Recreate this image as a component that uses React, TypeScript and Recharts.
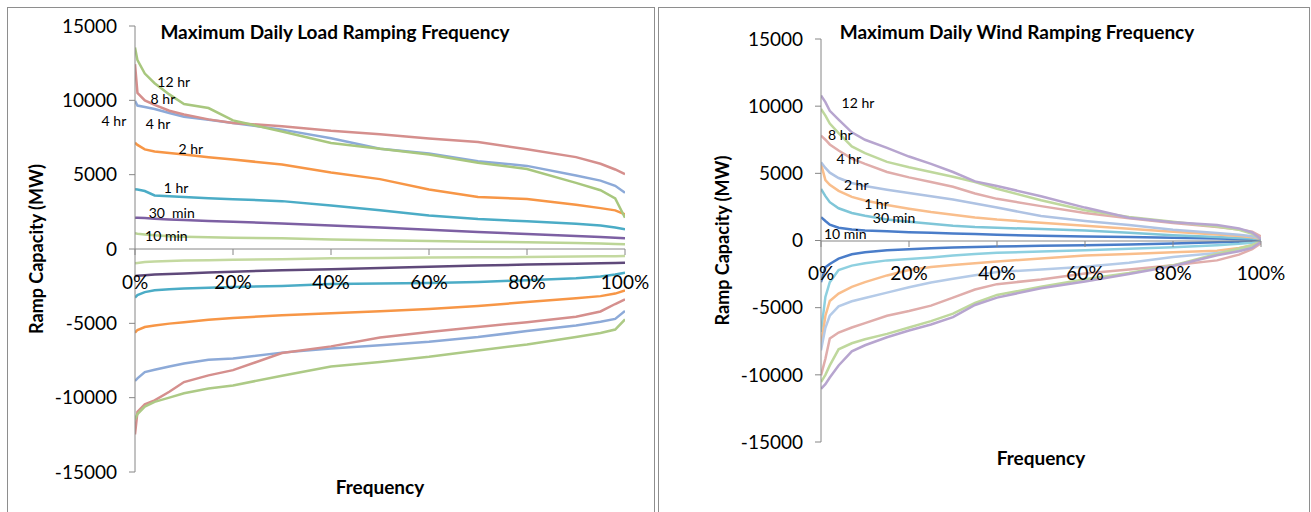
import React from 'react';
import { LineChart, Line, XAxis, YAxis, ReferenceDot } from 'recharts';

// frequency grid (share of days) the curves were read at
const loadFreq = [0, 0.005, 0.02, 0.04, 0.07, 0.1, 0.15, 0.2, 0.3, 0.4, 0.5, 0.6, 0.7, 0.8, 0.9, 0.95, 0.98, 1];
const windFreq = [0, 0.01, 0.02, 0.04, 0.07, 0.1, 0.15, 0.2, 0.25, 0.3, 0.35, 0.4, 0.5, 0.6, 0.7, 0.8, 0.9, 0.95, 0.98, 1];

// load ramps, MW (up = positive, down = negative)
const load12hUp = [13550, 12700, 11800, 11150, 10400, 9750, 9480, 8650, 7900, 7130, 6750, 6350, 5800, 5380, 4450, 3950, 3400, 2100];
const load8hUp = [12430, 10500, 10000, 9700, 9300, 9050, 8720, 8480, 8260, 7950, 7720, 7430, 7200, 6710, 6180, 5730, 5350, 5030];
const load4hUp = [9960, 9650, 9550, 9420, 9150, 8900, 8700, 8480, 8030, 7450, 6750, 6420, 5900, 5590, 4950, 4600, 4250, 3790];
const load2hUp = [7150, 7000, 6700, 6560, 6450, 6350, 6170, 6020, 5680, 5150, 4700, 4000, 3500, 3360, 2980, 2750, 2600, 2330];
const load1hUp = [4020, 4000, 3900, 3600, 3540, 3490, 3420, 3350, 3220, 2930, 2600, 2260, 2020, 1860, 1700, 1580, 1450, 1320];
const load30mUp = [2110, 2100, 2080, 2040, 1990, 1950, 1880, 1830, 1720, 1580, 1440, 1300, 1150, 1010, 880, 810, 760, 720];
const load10mUp = [1055, 1030, 980, 920, 860, 830, 790, 760, 715, 640, 590, 540, 495, 450, 400, 370, 340, 315];
const load10mDn = [-965, -940, -880, -840, -800, -780, -750, -730, -690, -620, -600, -580, -560, -540, -510, -495, -480, -470];
const load30mDn = [-1820, -1800, -1760, -1720, -1680, -1640, -1580, -1530, -1430, -1360, -1280, -1190, -1110, -1050, -990, -960, -940, -920];
const load1hDn = [-3270, -3100, -2900, -2780, -2700, -2660, -2600, -2550, -2490, -2360, -2320, -2290, -2220, -2100, -1960, -1850, -1720, -1600];
const load2hDn = [-5630, -5450, -5250, -5150, -5020, -4920, -4760, -4640, -4450, -4320, -4180, -4030, -3830, -3570, -3320, -3170, -3000, -2780];
const load4hDn = [-8880, -8700, -8280, -8120, -7900, -7700, -7450, -7360, -6970, -6700, -6480, -6240, -5920, -5520, -5150, -4900, -4700, -4170];
const load8hDn = [-12470, -10950, -10450, -10180, -9600, -8950, -8500, -8150, -7000, -6550, -5950, -5580, -5250, -4920, -4550, -4200, -3700, -3385];
const load12hDn = [-11460, -11100, -10600, -10280, -10000, -9700, -9380, -9180, -8520, -7900, -7600, -7250, -6820, -6430, -5920, -5650, -5420, -4730];

// wind ramps, MW
const wind12hUp = [10790, 10300, 9650, 9000, 8050, 7500, 6900, 6250, 5700, 5100, 4400, 4050, 3300, 2450, 1700, 1350, 1150, 900, 600, 100];
const wind8hUp = [9800, 9300, 8700, 8000, 7000, 6500, 5850, 5450, 5100, 4750, 4350, 3850, 3000, 2250, 1750, 1400, 1050, 800, 500, 80];
const wind4hUp = [7810, 7500, 7150, 6700, 6100, 5700, 5100, 4700, 4350, 4000, 3500, 3100, 2560, 2050, 1650, 1300, 1000, 820, 650, 300];
const wind2hUp = [5830, 5400, 5050, 4650, 4280, 4050, 3780, 3530, 3300, 3050, 2750, 2450, 1820, 1450, 1150, 800, 560, 420, 320, 150];
const wind1hUp = [5700, 4500, 4150, 3700, 3250, 2980, 2650, 2370, 2120, 1920, 1720, 1560, 1320, 1100, 880, 660, 450, 330, 250, 100];
const wind30mUp = [3840, 3300, 2850, 2400, 2050, 1850, 1570, 1400, 1250, 1100, 1000, 950, 850, 740, 580, 400, 260, 190, 140, 60];
const wind10mUp = [1740, 1450, 1180, 950, 820, 745, 680, 620, 570, 520, 480, 430, 360, 300, 260, 210, 150, 110, 80, 30];
const wind10mDn = [-3100, -2000, -1750, -1350, -1020, -880, -730, -650, -580, -530, -490, -450, -400, -360, -290, -220, -130, -90, -60, -30];
const wind30mDn = [-6820, -4200, -3100, -2200, -1870, -1700, -1480, -1380, -1260, -1120, -1000, -920, -820, -730, -620, -500, -350, -250, -160, -60];
const wind1hDn = [-7810, -5600, -4500, -3950, -3450, -3100, -2600, -2200, -1980, -1820, -1700, -1560, -1340, -1120, -1000, -880, -760, -560, -350, -100];
const wind2hDn = [-8180, -6500, -5600, -4900, -4520, -4280, -3880, -3480, -3120, -2850, -2580, -2350, -2150, -1950, -1650, -1220, -930, -700, -450, -150];
const wind4hDn = [-10040, -8800, -7300, -6850, -6480, -6150, -5600, -5250, -4850, -4250, -3650, -3250, -2900, -2450, -2150, -1850, -1480, -1050, -650, -200];
const wind8hDn = [-10540, -10000, -9300, -8100, -7650, -7350, -6950, -6480, -6000, -5450, -4650, -4050, -3450, -2880, -2420, -1850, -1000, -600, -350, -80];
const wind12hDn = [-11040, -10700, -10200, -9300, -8250, -7800, -7200, -6700, -6250, -5700, -4800, -4250, -3550, -3050, -2500, -1900, -1100, -800, -550, -100];

const mwTicks = [-15000, -10000, -5000, 0, 5000, 10000, 15000];
const freqTicks = [0, 0.2, 0.4, 0.6, 0.8, 1];

// text boxes sitting on the curves: label, frequency, MW
const loadNoteText = ['12 hr', '8 hr', '4 hr', '4 hr', '2 hr', '1 hr', '30\u00A0 min', '10 min'];
const loadNoteFreq = [0.079, 0.057, -0.043, 0.047, 0.114, 0.084, 0.075, 0.064];
const loadNoteMW = [11200, 10100, 8580, 8430, 6710, 4125, 2390, 855];
const windNoteText = ['12 hr', '8 hr', '4 hr', '2 hr', '1 hr', '30 min', '10 min'];
const windNoteFreq = [0.084, 0.044, 0.063, 0.08, 0.126, 0.166, 0.055];
const windNoteMW = [10230, 7830, 6100, 4130, 2750, 1640, 480];

type Series = { name: string; values: number[]; color: string };

const loadSeries: Series[] = [
  { name: '10 min up', values: load10mUp, color: '#BCD597' },
  { name: '30 min up', values: load30mUp, color: '#7D60A3' },
  { name: '1 hr up', values: load1hUp, color: '#4BACC6' },
  { name: '2 hr up', values: load2hUp, color: '#F79646' },
  { name: '4 hr up', values: load4hUp, color: '#8DAAD8' },
  { name: '8 hr up', values: load8hUp, color: '#D58F8D' },
  { name: '12 hr up', values: load12hUp, color: '#A8C77E' },
  { name: '10 min down', values: load10mDn, color: '#C4D9A0' },
  { name: '30 min down', values: load30mDn, color: '#5F497A' },
  { name: '1 hr down', values: load1hDn, color: '#4BACC6' },
  { name: '2 hr down', values: load2hDn, color: '#F79646' },
  { name: '4 hr down', values: load4hDn, color: '#8DAAD8' },
  { name: '8 hr down', values: load8hDn, color: '#D58F8D' },
  { name: '12 hr down', values: load12hDn, color: '#ADCA86' },
];

const windSeries: Series[] = [
  { name: '10 min up', values: wind10mUp, color: '#4A7DC9' },
  { name: '30 min up', values: wind30mUp, color: '#7FC6D8' },
  { name: '1 hr up', values: wind1hUp, color: '#F9BE8C' },
  { name: '2 hr up', values: wind2hUp, color: '#AFC3E3' },
  { name: '4 hr up', values: wind4hUp, color: '#E0ADAB' },
  { name: '8 hr up', values: wind8hUp, color: '#BFD89D' },
  { name: '12 hr up', values: wind12hUp, color: '#B7A5CF' },
  { name: '10 min down', values: wind10mDn, color: '#4A7DC9' },
  { name: '30 min down', values: wind30mDn, color: '#8ED0E0' },
  { name: '1 hr down', values: wind1hDn, color: '#F9BE8C' },
  { name: '2 hr down', values: wind2hDn, color: '#B5CBE8' },
  { name: '4 hr down', values: wind4hDn, color: '#E0ADAB' },
  { name: '8 hr down', values: wind8hDn, color: '#BFD89D' },
  { name: '12 hr down', values: wind12hDn, color: '#B7A5CF' },
];

const axisGray = '#868686';
const panelGray = '#8E8E8E';
const CHART_W = 655;
const CHART_H = 512;
const X_AXIS_H = 30;
const FONT = 19;

const pct = (v: number) => `${Math.round(v * 100)}%`;

type PanelProps = {
  x0: number;
  plotLeft: number;
  plotRight: number;
  plotTop: number;
  plotBottom: number;
  yAxisWidth: number;
  yTitleOffset: number;
  xTitleOffset: number;
  tickGap: number;
  freq: number[];
  series: Series[];
  noteText: string[];
  noteFreq: number[];
  noteMW: number[];
};

const RampPanel: React.FC<PanelProps> = (p) => {
  const marginLeft = p.plotLeft - p.x0 - p.yAxisWidth;
  const marginRight = p.x0 + CHART_W - p.plotRight;
  const zeroY = Math.round(p.plotTop + (p.plotBottom - p.plotTop) / 2);

  return (
    <>
      <div style={{ position: 'absolute', left: p.x0, top: 0 }}>
        <LineChart
          width={CHART_W}
          height={CHART_H}
          margin={{ top: p.plotTop, right: marginRight, bottom: CHART_H - p.plotBottom - X_AXIS_H, left: marginLeft }}
        >
          <XAxis
            type="number"
            dataKey="f"
            domain={[0, 1]}
            allowDataOverflow
            tick={false}
            axisLine={false}
            tickLine={false}
            height={X_AXIS_H}
            label={{ value: 'Frequency', position: 'insideTop', offset: p.xTitleOffset, style: { fontWeight: 700, fontSize: FONT, fill: '#000' } }}
          />
          <YAxis
            type="number"
            domain={[-15000, 15000]}
            ticks={mwTicks}
            interval={0}
            width={p.yAxisWidth}
            tickSize={6}
            tickMargin={12}
            axisLine={{ stroke: axisGray }}
            tickLine={{ stroke: axisGray }}
            tick={{ fontSize: FONT, fill: '#000' }}
            label={{
              value: 'Ramp Capacity (MW)',
              angle: -90,
              position: 'insideLeft',
              offset: p.yTitleOffset,
              style: { textAnchor: 'middle', fontWeight: 700, fontSize: 18, fill: '#000' },
            }}
          />
          {p.series.map((s) => (
            <Line
              key={s.name}
              name={s.name}
              data={p.freq.map((f, i) => ({ f, v: s.values[i] }))}
              dataKey="v"
              type="linear"
              stroke={s.color}
              strokeWidth={2.5}
              dot={false}
              activeDot={false}
              isAnimationActive={false}
            />
          ))}
          {p.noteText.map((t, i) => (
            <ReferenceDot
              key={`note-${i}`}
              x={p.noteFreq[i]}
              y={p.noteMW[i]}
              r={0}
              ifOverflow="visible"
              label={{ value: t, position: 'center', fontSize: 14, fill: '#000' }}
            />
          ))}
        </LineChart>
      </div>
      {/* category axis crosses at 0 MW, drawn on top like Excel does */}
      <div style={{ position: 'absolute', left: p.x0, top: 0 }}>
        <LineChart
          width={CHART_W}
          height={zeroY + 50}
          data={[{ f: 0 }, { f: 1 }]}
          margin={{ top: p.plotTop, right: marginRight, bottom: 0, left: p.plotLeft - p.x0 }}
        >
          <XAxis
            type="number"
            dataKey="f"
            domain={[0, 1]}
            allowDataOverflow
            ticks={freqTicks}
            interval={0}
            tickFormatter={pct}
            height={50}
            tickSize={6}
            tickMargin={p.tickGap}
            axisLine={{ stroke: axisGray }}
            tickLine={{ stroke: axisGray }}
            tick={{ fontSize: FONT, fill: '#000' }}
          />
        </LineChart>
      </div>
    </>
  );
};

const titleStyle: React.CSSProperties = {
  position: 'absolute',
  top: 31,
  transform: 'translate(-50%, -50%)',
  whiteSpace: 'nowrap',
  fontWeight: 700,
  fontSize: FONT,
  color: '#000',
};

export default function App() {
  return (
    <div
      style={{
        position: 'absolute',
        left: 0,
        top: 0,
        width: 1311,
        height: 512,
        overflow: 'hidden',
        background: '#fff',
        fontFamily: 'Lato, "Open Sans", sans-serif',
      }}
    >
      <div style={{ position: 'absolute', left: 7, top: 7, width: 648, height: 530, border: `1px solid ${panelGray}`, boxSizing: 'border-box' }} />
      <div style={{ position: 'absolute', left: 658, top: 7, width: 652, height: 530, border: `1px solid ${panelGray}`, boxSizing: 'border-box' }} />

      <RampPanel
        x0={0}
        plotLeft={135}
        plotRight={625}
        plotTop={26}
        plotBottom={472}
        yAxisWidth={105}
        yTitleOffset={7}
        xTitleOffset={9}
        tickGap={21}
        freq={loadFreq}
        series={loadSeries}
        noteText={loadNoteText}
        noteFreq={loadNoteFreq}
        noteMW={loadNoteMW}
      />
      <RampPanel
        x0={656}
        plotLeft={821}
        plotRight={1261}
        plotTop={39}
        plotBottom={442}
        yAxisWidth={110}
        yTitleOffset={12}
        xTitleOffset={10}
        tickGap={20}
        freq={windFreq}
        series={windSeries}
        noteText={windNoteText}
        noteFreq={windNoteFreq}
        noteMW={windNoteMW}
      />

      <div style={{ ...titleStyle, left: 335 }}>Maximum Daily Load Ramping Frequency</div>
      <div style={{ ...titleStyle, left: 1017 }}>Maximum Daily Wind Ramping Frequency</div>
    </div>
  );
}
